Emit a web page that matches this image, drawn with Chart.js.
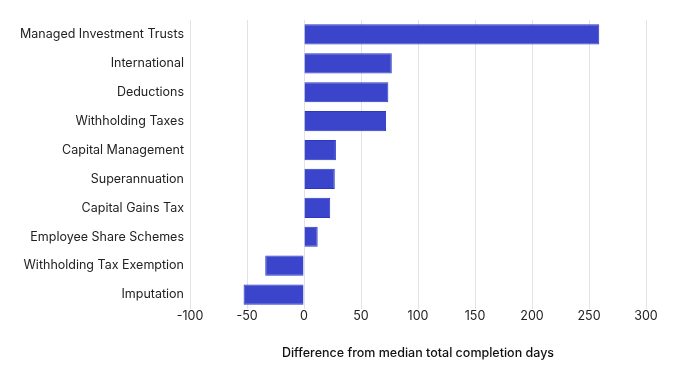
<!DOCTYPE html>
<html>
<head>
<meta charset="utf-8">
<script src="https://cdn.jsdelivr.net/npm/chart.js@4/dist/chart.umd.min.js"></script>
<style>
  html, body { margin: 0; padding: 0; background: #fff; }
  #wrap { width: 680px; height: 376px; }
</style>
</head>
<body>
<div id="wrap"><canvas id="diffChart"></canvas></div>
<script>
const categories = [
    'Managed Investment Trusts', 'International', 'Deductions', 'Withholding Taxes',
    'Capital Management', 'Superannuation', 'Capital Gains Tax', 'Employee Share Schemes',
    'Withholding Tax Exemption', 'Imputation'
];
const diffDays = [259, 77, 74, 72, 28, 27, 23, 12, -34, -53];
const xTicks = [-100, -50, 0, 50, 100, 150, 200, 250, 300];

Chart.defaults.font.family = 'Inter, "Noto Sans", sans-serif';
Chart.defaults.font.size = 12.5;
Chart.defaults.color = '#222';

const ctx = document.getElementById('diffChart').getContext('2d');
new Chart(ctx, {
    type: 'bar',
    data: {
        labels: categories,
        datasets: [{
            data: diffDays,
            backgroundColor: '#3a45cc',
            borderColor: '#2c36c6',
            borderWidth: 1,
            barPercentage: 0.7,
            categoryPercentage: 1
        }]
    },
    options: {
        indexAxis: 'y',
        responsive: true,
        maintainAspectRatio: false,
        animation: false,
        layout: { padding: { top: 20, right: 34, bottom: 15, left: 0 } },
        plugins: { legend: { display: false }, tooltip: { enabled: false } },
        scales: {
            x: {
                min: -100,
                max: 300,
                afterBuildTicks: scale => { scale.ticks = xTicks.map(v => ({ value: v })); },
                grid: { color: '#e3e3e3', drawTicks: false },
                border: { display: false },
                ticks: { padding: 0 },
                title: {
                    display: true,
                    text: 'Difference from median total completion days',
                    font: { size: 12.5, weight: '500' },
                    color: '#111',
                    padding: { top: 22, bottom: 0 }
                }
            },
            y: {
                afterFit: scale => { scale.width = 190; },
                grid: { display: false, drawTicks: false },
                border: { display: false },
                ticks: { padding: 6 }
            }
        }
    }
});
</script>
</body>
</html>
